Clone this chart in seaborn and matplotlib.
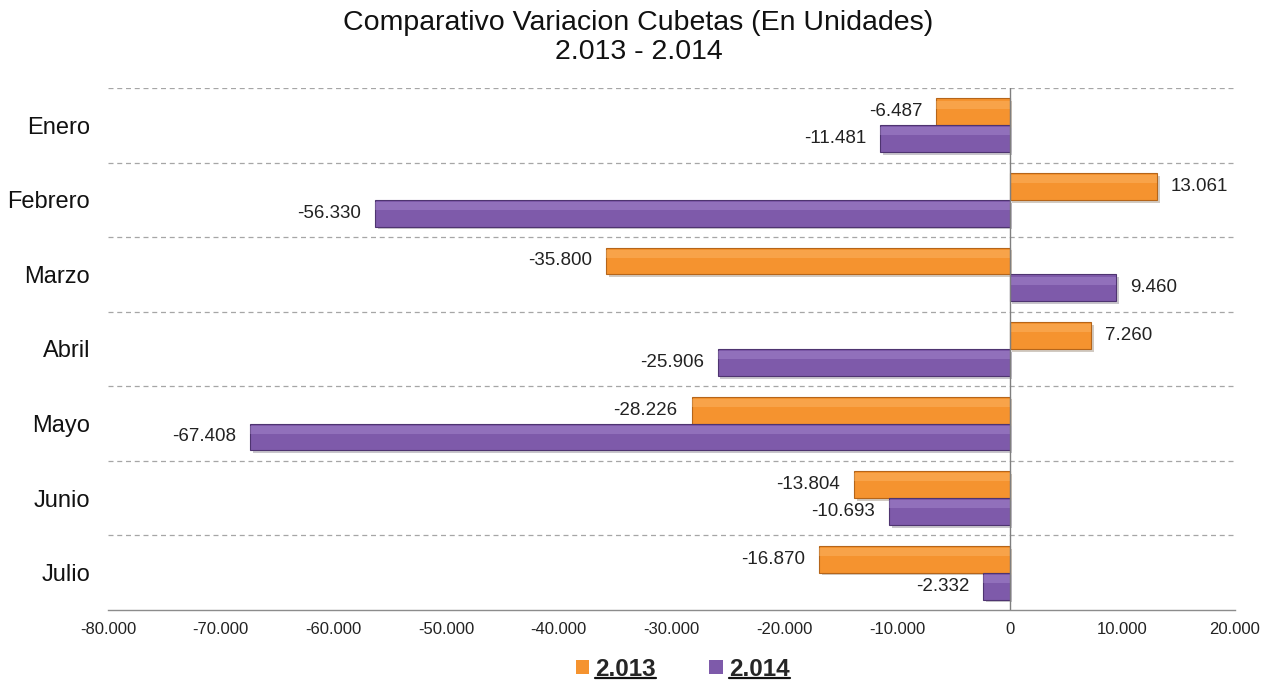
import pandas as pd
import numpy as np
import seaborn as sns
import matplotlib.pyplot as plt
import matplotlib.patheffects as pe
from matplotlib.ticker import FuncFormatter
from matplotlib.lines import Line2D

# data
meses = ['Enero', 'Febrero', 'Marzo', 'Abril', 'Mayo', 'Junio', 'Julio']
var_2013 = [-6487, 13061, -35800, 7260, -28226, -13804, -16870]
var_2014 = [-11481, -56330, 9460, -25906, -67408, -10693, -2332]
anios = ['2.013', '2.014']
colores = ['#F5932F', '#7E5AAA']

df = pd.DataFrame({
    'mes': meses * 2,
    'valor': var_2013 + var_2014,
    'anio': [anios[0]] * len(meses) + [anios[1]] * len(meses),
})

def miles(v, pos=None):
    return f'{v:,.0f}'.replace(',', '.')

sns.set_style('white')
plt.rcParams['font.family'] = ['Liberation Sans', 'DejaVu Sans']

fig, ax = plt.subplots(figsize=(12.62, 6.82), dpi=100)
fig.subplots_adjust(left=0.0856, right=0.9786, top=0.871, bottom=0.1056)

sns.barplot(data=df, y='mes', x='valor', hue='anio', orient='h', width=0.72,
            palette=colores, linewidth=0.8, saturation=1, ax=ax)

# darker edges, soft shadow and a light upper band for the bevel look
for cont, col, luz in zip(ax.containers, ['#B5651A', '#4E3470'], ['#FFC27A', '#B79BDC']):
    for p in cont:
        p.set_edgecolor(col)
        p.set_path_effects([pe.SimplePatchShadow(offset=(2, -2), alpha=0.25), pe.Normal()])
        x0, y0, w, h = p.get_x(), p.get_y(), p.get_width(), p.get_height()
        ax.add_patch(plt.Rectangle((x0, y0 + h * 0.08), w, h * 0.3, fc=luz, ec='none', alpha=0.35, zorder=p.get_zorder() + 0.1))

for cont, vals in zip(ax.containers, [var_2013, var_2014]):
    ax.bar_label(cont, labels=[miles(v) for v in vals], padding=10, fontsize=13.5, color='#222222')

ax.set_xlim(-80000, 20000)
ax.set_ylim(6.5, -0.5)
ax.set_xticks(np.arange(-80000, 20001, 10000))
ax.xaxis.set_major_formatter(FuncFormatter(miles))
ax.tick_params(axis='x', labelsize=12, colors='#222222', length=5, width=1, direction='out', color='#8c8c8c')
ax.tick_params(axis='y', labelsize=17, length=0, pad=13, colors='#111111')
ax.set_xlabel('')
ax.set_ylabel('')

for y in np.arange(-0.5, 6, 1.0):
    ax.axhline(y, color='#a6a6a6', lw=0.9, ls=(0, (4, 3)), zorder=0)
ax.axvline(0, color='#7f7f7f', lw=1, zorder=3)

for s in ['top', 'right', 'left']:
    ax.spines[s].set_visible(False)
ax.spines['bottom'].set_color('#8c8c8c')
ax.spines['bottom'].set_linewidth(1)

fig.suptitle('Comparativo Variacion Cubetas (En Unidades)\n2.013 - 2.014', x=0.506, y=0.986,
             va='top', fontsize=20.5, color='#111111', linespacing=1.15)

# legend at bottom
ax.get_legend().remove()
handles = [plt.Rectangle((0, 0), 1, 1, fc=c, ec='none') for c in colores]
leg = fig.legend(handles, anios, loc='lower center', bbox_to_anchor=(0.541, -0.03), ncol=2, frameon=False,
                 prop={'size': 17.5, 'weight': 'bold'}, handlelength=0.55, handleheight=0.55,
                 handletextpad=0.25, columnspacing=2.2)

fig.canvas.draw()
inv = fig.transFigure.inverted()
for t in leg.get_texts():
    bb = t.get_window_extent()
    (x0, y0), (x1, y1) = inv.transform([[bb.x0, bb.y0], [bb.x1, bb.y1]])
    fig.add_artist(Line2D([x0, x1], [y0 + 0.004, y0 + 0.004], color='#111111', lw=1.6, transform=fig.transFigure))

fig.savefig('out.png', dpi=100)
